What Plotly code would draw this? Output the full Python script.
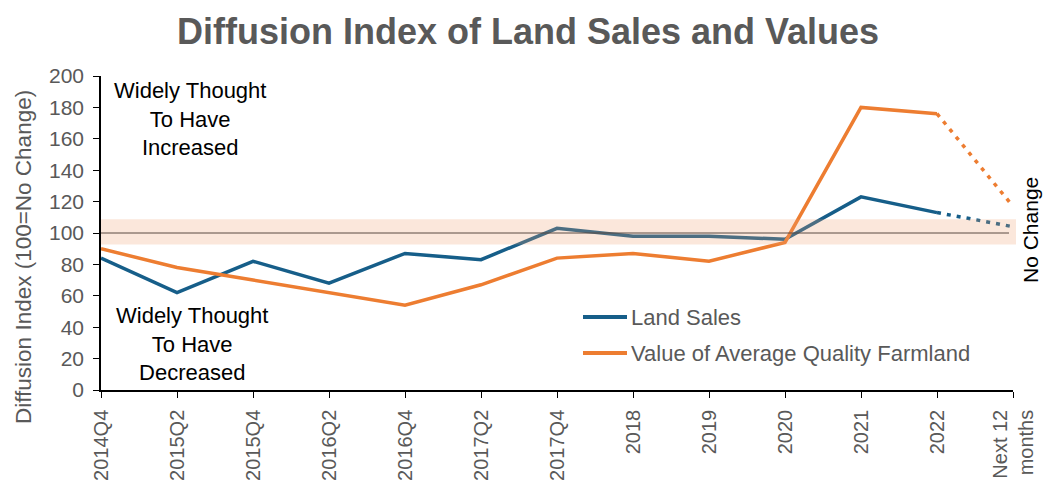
import plotly.graph_objects as go

categories = ["2014Q4", "2015Q2", "2015Q4", "2016Q2", "2016Q4", "2017Q2", "2017Q4",
              "2018", "2019", "2020", "2021", "2022", "Next 12<br>months"]
land_sales = [84, 62, 82, 68, 87, 83, 103, 98, 98, 96, 123, 113, 104]
farmland_value = [90, 78, 70, 62, 54, 67, 84, 87, 82, 94, 180, 176, 117]
series_names = ["Land Sales", "Value of Average Quality Farmland"]
band_low, band_high, no_change = 92.7, 108.7, 100

BLUE = "#165E89"
ORANGE = "#ED7D31"
GRAY = "#595959"
FONT = "Liberation Sans, Arial, sans-serif"

L, R, T, B = 101, 1013, 76, 390
PW, PH = R - L, B - T


def px(x):
    return (x - L) / PW


def py(y):
    return (B - y) / PH


xs = list(range(len(categories)))
fig = go.Figure()

for vals, color, name in [(land_sales, BLUE, series_names[0]), (farmland_value, ORANGE, series_names[1])]:
    fig.add_trace(go.Scatter(x=xs[:-1], y=vals[:-1], mode="lines", name=name,
                             line=dict(color=color, width=3.5)))
    fig.add_trace(go.Scatter(x=xs[-2:], y=vals[-2:], mode="lines", name=name + " (next 12 months)",
                             line=dict(color=color, width=3.5, dash="4px,6px")))

fig.add_shape(type="rect", xref="paper", yref="y", x0=0, x1=px(1016), y0=band_low, y1=band_high,
              fillcolor="rgba(240,160,110,0.25)", line=dict(width=0), layer="above")
fig.add_shape(type="line", xref="paper", yref="y", x0=0, x1=px(1009), y0=no_change, y1=no_change,
              line=dict(color="#5a4a42", width=1), layer="above")

# legend (drawn manually to match the long sample lines)
for (name, color, yc) in [(series_names[0], BLUE, 317), (series_names[1], ORANGE, 353)]:
    fig.add_shape(type="line", xref="paper", yref="paper", x0=px(583), x1=px(627),
                  y0=py(yc), y1=py(yc), line=dict(color=color, width=4))
    fig.add_annotation(text=name, xref="paper", yref="paper", x=px(629), y=py(yc),
                       xanchor="left", yanchor="middle", showarrow=False,
                       font=dict(family=FONT, size=22, color=GRAY))

fig.add_annotation(text="Widely Thought<br>To Have<br>Increased", xref="paper", yref="paper",
                   x=px(190), y=py(119), showarrow=False, xanchor="center", yanchor="middle",
                   font=dict(family=FONT, size=22, color="black"), align="center")
fig.add_annotation(text="Widely Thought<br>To Have<br>Decreased", xref="paper", yref="paper",
                   x=px(192), y=py(344), showarrow=False, xanchor="center", yanchor="middle",
                   font=dict(family=FONT, size=22, color="black"), align="center")
fig.add_annotation(text="No Change", xref="paper", yref="paper",
                   x=px(1030), y=py(230), showarrow=False, textangle=-90,
                   xanchor="center", yanchor="middle",
                   font=dict(family=FONT, size=21, color="black"))
fig.add_annotation(text="Diffusion Index (100=No Change)", xref="paper", yref="paper",
                   x=px(23), y=py(257), showarrow=False, textangle=-90,
                   xanchor="center", yanchor="middle",
                   font=dict(family=FONT, size=22.5, color=GRAY))

fig.update_layout(
    width=1043, height=485,
    margin=dict(l=L, r=1043 - R, t=T, b=485 - B, autoexpand=False),
    paper_bgcolor="white", plot_bgcolor="white",
    title=dict(text="<b>Diffusion Index of Land Sales and Values</b>", x=528 / 1043,
               xanchor="center", yref="container", y=1 - 31 / 485, yanchor="middle",
               font=dict(family=FONT, size=36, color=GRAY)),
    font=dict(family=FONT, color=GRAY),
    showlegend=False,
)
fig.update_xaxes(range=[0, 12], tickmode="array", tickvals=xs, ticktext=categories,
                 tickangle=-90, tickfont=dict(family=FONT, size=20, color=GRAY),
                 ticklabelstandoff=4,
                 showline=True, linecolor="black", linewidth=1.5, ticks="outside",
                 ticklen=6, tickcolor="black", showgrid=False, zeroline=False, automargin=False)
fig.update_yaxes(range=[0, 200], dtick=20, tickfont=dict(family=FONT, size=21, color=GRAY),
                 ticklabelstandoff=5,
                 showline=True, linecolor="black", linewidth=1.5, ticks="outside",
                 ticklen=6, tickcolor="black", showgrid=False, zeroline=False, automargin=False)

fig.write_html("out.html", config={"displayModeBar": False},
               post_script="document.body.style.margin='0px';document.body.style.overflow='hidden';")
